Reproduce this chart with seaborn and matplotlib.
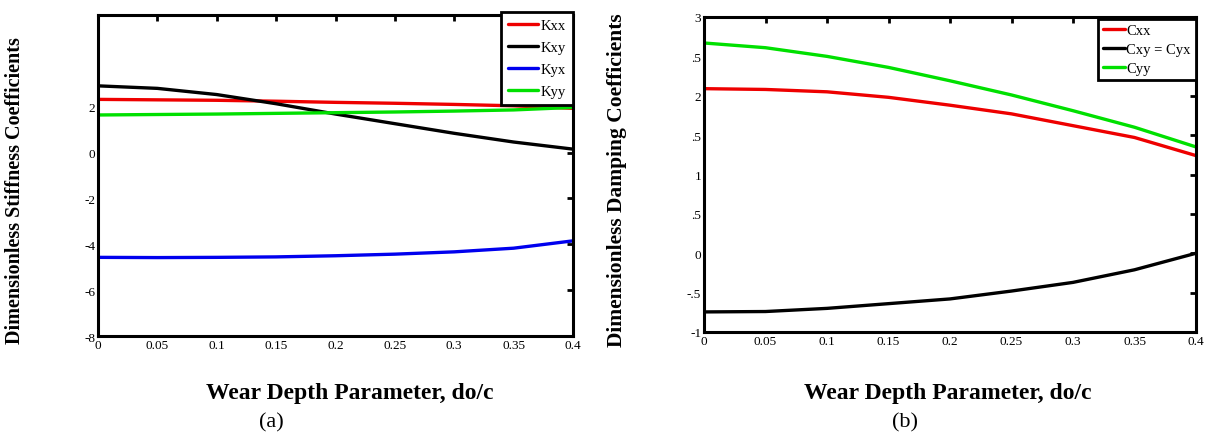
import matplotlib
matplotlib.use("Agg")
import matplotlib.pyplot as plt
import seaborn as sns
import pandas as pd

# ---------------- data ----------------
wear = [0.0, 0.05, 0.10, 0.15, 0.20, 0.25, 0.30, 0.35, 0.40]

Kxx = [2.32, 2.30, 2.28, 2.24, 2.19, 2.15, 2.10, 2.04, 1.93]
Kxy = [2.91, 2.80, 2.53, 2.13, 1.68, 1.26, 0.84, 0.46, 0.15]
Kyx = [-4.57, -4.58, -4.57, -4.55, -4.50, -4.43, -4.33, -4.17, -3.85]
Kyy = [1.64, 1.66, 1.68, 1.71, 1.74, 1.77, 1.81, 1.86, 1.97]

Cxx = [2.09, 2.08, 2.05, 1.98, 1.88, 1.77, 1.62, 1.47, 1.24]
Cxy = [-0.745, -0.74, -0.70, -0.64, -0.58, -0.48, -0.37, -0.21, 0.0]
Cyy = [2.67, 2.61, 2.50, 2.36, 2.19, 2.01, 1.81, 1.60, 1.35]

stiff_names = ["Kxx", "Kxy", "Kyx", "Kyy"]
damp_names = ["Cxx", "Cxy = Cyx", "Cyy"]

x_ticks = [0, 0.05, 0.1, 0.15, 0.2, 0.25, 0.3, 0.35, 0.4]
x_ticklabels = ["0", "0.05", "0.1", "0.15", "0.2", "0.25", "0.3", "0.35", "0.4"]
left_yticks = [-8, -6, -4, -2, 0, 2, 4, 6]
left_yticklabels = ["-8", "-6", "-4", "-2", "0", "2", "", ""]
right_yticks = [-1, -0.5, 0, 0.5, 1, 1.5, 2, 2.5, 3]
right_yticklabels = ["-1", "-.5", "0", ".5", "1", ".5", "2", ".5", "3"]

xlabel = "Wear Depth Parameter, do/c"
ylabel_a = "Dimensionless Stiffness Coefficients"
ylabel_b = "Dimensionless Damping Coefficients"

# ---------------- frames ----------------
stiff = pd.DataFrame({
    "wear": wear * 4,
    "value": Kxx + Kxy + Kyx + Kyy,
    "coef": sum([[n] * len(wear) for n in stiff_names], []),
})
damp = pd.DataFrame({
    "wear": wear * 3,
    "value": Cxx + Cxy + Cyy,
    "coef": sum([[n] * len(wear) for n in damp_names], []),
})

sns.set_style("white")
plt.rcParams["font.family"] = ["Liberation Serif", "DejaVu Serif"]
plt.rcParams["text.color"] = "black"
plt.rcParams["axes.labelcolor"] = "black"

RED, BLACK, BLUE, GREEN = "#ee0000", "#000000", "#0000ee", "#00e000"
LW = 2.4

fig = plt.figure(figsize=(12.08, 4.35), dpi=100)
axA = fig.add_axes([98 / 1208, 1 - 337 / 435, 475 / 1208, 321 / 435])
axB = fig.add_axes([704 / 1208, 1 - 333 / 435, 492 / 1208, 315 / 435])

sns.lineplot(data=stiff, x="wear", y="value", hue="coef", hue_order=stiff_names,
             palette=[RED, BLACK, BLUE, GREEN], linewidth=LW, ax=axA)
sns.lineplot(data=damp, x="wear", y="value", hue="coef", hue_order=damp_names,
             palette=[RED, BLACK, GREEN], linewidth=LW, ax=axB)

def style(ax, yticks, ylabels, ylim):
    ax.set_xlim(0, 0.4)
    ax.set_ylim(*ylim)
    ax.set_xticks(x_ticks)
    ax.set_xticklabels(x_ticklabels)
    ax.set_yticks(yticks)
    ax.set_yticklabels(ylabels)
    for s in ax.spines.values():
        s.set_visible(True)
        s.set_linewidth(2.2)
        s.set_color("black")
    ax.tick_params(direction="in", length=4, width=2, top=True, right=True,
                   labelsize=9.5, pad=2, colors="black")

style(axA, left_yticks, left_yticklabels, (-8, 6))
style(axB, right_yticks, right_yticklabels, (-1, 3))

lab_font = dict(fontweight="bold", color="black",
                family=["Liberation Serif", "DejaVu Serif"])
axA.set_ylabel(ylabel_a, fontsize=14.5, **lab_font)
axB.set_ylabel(ylabel_b, fontsize=15.5, **lab_font)
axA.yaxis.set_label_coords(-0.154, 0.455)
axB.yaxis.set_label_coords(-0.157, 0.486)
axA.set_xlabel(xlabel, fontsize=17, **lab_font)
axB.set_xlabel(xlabel, fontsize=17, **lab_font)
axA.xaxis.set_label_coords(0.53, -0.143)
axB.xaxis.set_label_coords(0.496, -0.159)

legA = axA.legend(loc="upper right", bbox_to_anchor=(1.0, 1.01), borderaxespad=0,
                  fontsize=10.5, handlelength=2.0, handletextpad=0.2, labelspacing=0.6,
                  fancybox=False, frameon=True, borderpad=0.5, framealpha=1)
legA.get_frame().set_edgecolor("black")
legA.get_frame().set_linewidth(2)
legA.set_zorder(10)
for l in legA.get_lines():
    l.set_linewidth(LW)

legB = axB.legend(loc="upper right", bbox_to_anchor=(1.0, 0.995), borderaxespad=0,
                  fontsize=10.5, handlelength=1.5, handletextpad=0.1, labelspacing=0.4,
                  fancybox=False, frameon=True, borderpad=0.35, framealpha=1)
legB.get_frame().set_edgecolor("black")
legB.get_frame().set_linewidth(2)
legB.set_zorder(10)
for l in legB.get_lines():
    l.set_linewidth(LW)

fig.text(271 / 1208, 1 - 423 / 435, "(a)", ha="center", va="center", fontsize=16,
         color="black")
fig.text(905 / 1208, 1 - 423 / 435, "(b)", ha="center", va="center", fontsize=16,
         color="black")

fig.savefig("out.png", dpi=100, facecolor="white")
